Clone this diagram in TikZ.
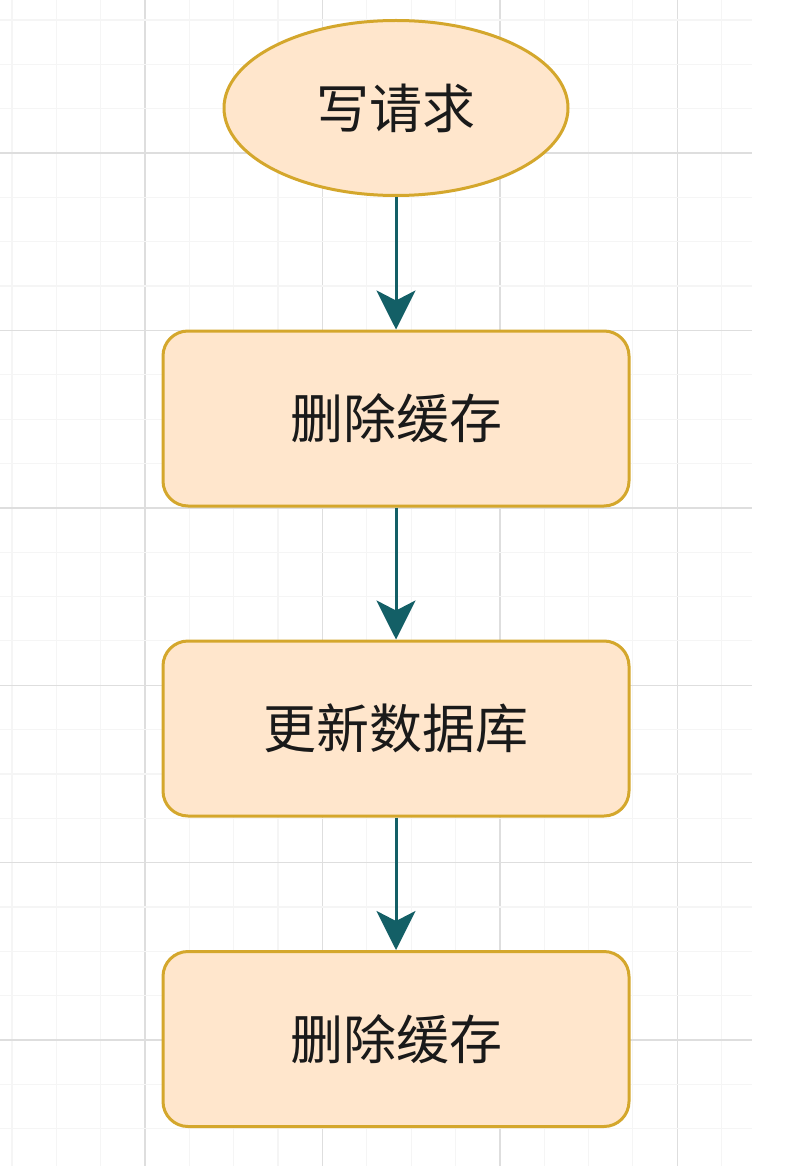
\documentclass[tikz,border=0pt]{standalone}
\usepackage{fontspec}
\newfontfamily\cjk{Noto Sans CJK SC}
\usetikzlibrary{arrows.meta,shapes.geometric}
\definecolor{boxfill}{HTML}{FFE6CC}
\definecolor{boxline}{HTML}{D4A72C}
\definecolor{arrowc}{HTML}{135F66}
\definecolor{gridmajor}{HTML}{DEDEDE}
\definecolor{gridminor}{HTML}{F5F5F5}
\definecolor{textc}{HTML}{1A1A1A}
\tikzset{
  stepbox/.style={draw=boxline, fill=boxfill, line width=3pt, rounded corners=25pt,
    minimum width=466pt, minimum height=175pt, inner sep=0pt,
    font=\cjk\fontsize{53}{63}\selectfont, text=textc},
  startnode/.style={ellipse, draw=boxline, fill=boxfill, line width=3pt,
    minimum width=344pt, minimum height=175pt, inner sep=0pt,
    font=\cjk\fontsize{53}{63}\selectfont, text=textc},
  flow/.style={draw=arrowc, line width=3pt, -{Stealth[length=39pt,width=39pt,inset=10pt]}}
}
\begin{document}
\begin{tikzpicture}[x=1pt,y=-1pt]
\useasboundingbox (0,0) rectangle (786,1166);
\fill[white] (0,0) rectangle (786,1166);
\begin{scope}
\clip (0,0) rectangle (752,1166);
\foreach \k in {-3,...,13}{
  \pgfmathsetmacro{\xx}{145+44.35*\k}
  \pgfmathtruncatemacro{\mm}{mod(\k+40,4)}
  \ifnum\mm=0
    \draw[gridmajor, line width=1.4pt] (\xx,0) -- (\xx,1166);
  \else
    \draw[gridminor, line width=1.2pt] (\xx,0) -- (\xx,1166);
  \fi
}
\foreach \k in {-3,...,22}{
  \pgfmathsetmacro{\yy}{153+44.35*\k}
  \pgfmathtruncatemacro{\mm}{mod(\k+40,4)}
  \ifnum\mm=0
    \draw[gridmajor, line width=1.4pt] (0,\yy) -- (752,\yy);
  \else
    \draw[gridminor, line width=1.2pt] (0,\yy) -- (752,\yy);
  \fi
}
\end{scope}
\node[startnode] (req) at (396,108) {写请求};
\node[stepbox] (del1) at (396,418.5) {删除缓存};
\node[stepbox] (upd) at (396,728.5) {更新数据库};
\node[stepbox] (del2) at (396,1039) {删除缓存};
\draw[flow] (req.south) -- (del1.north);
\draw[flow] (del1.south) -- (upd.north);
\draw[flow] (upd.south) -- (del2.north);
\end{tikzpicture}
\end{document}
